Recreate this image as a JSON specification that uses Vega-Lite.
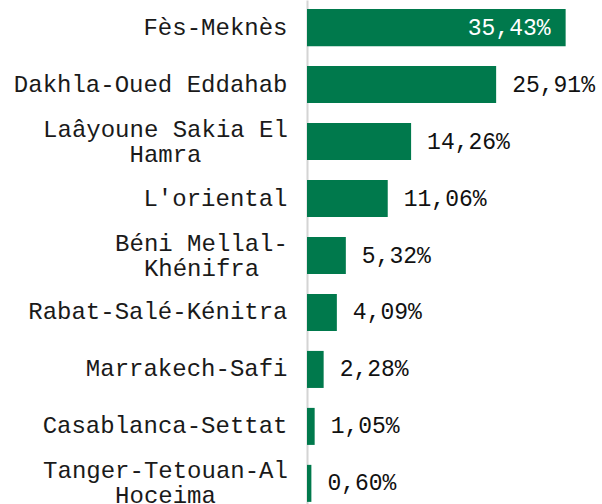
{
  "$schema": "https://vega.github.io/schema/vega-lite/v6.json",
  "width": 292,
  "height": 511,
  "padding": {"left": 13, "top": 0, "right": 0, "bottom": 0},
  "background": "white",
  "config": {"view": {"stroke": null}},
  "data": {"values": [
    {"region": "Fès-Meknès", "share": 35.43},
    {"region": "Dakhla-Oued Eddahab", "share": 25.91},
    {"region": "Laâyoune Sakia El Hamra", "share": 14.26},
    {"region": "L'oriental", "share": 11.06},
    {"region": "Béni Mellal-Khénifra", "share": 5.32},
    {"region": "Rabat-Salé-Kénitra", "share": 4.09},
    {"region": "Marrakech-Safi", "share": 2.28},
    {"region": "Casablanca-Settat", "share": 1.05},
    {"region": "Tanger-Tetouan-Al Hoceima", "share": 0.60}
  ]},
  "transform": [
    {"calculate": "replace(format(datum.share, '.2f'), '.', ',') + '%'", "as": "label"}
  ],
  "encoding": {
    "y": {
      "field": "region", "type": "nominal",
      "sort": ["Fès-Meknès", "Dakhla-Oued Eddahab", "Laâyoune Sakia El Hamra", "L'oriental", "Béni Mellal-Khénifra", "Rabat-Salé-Kénitra", "Marrakech-Safi", "Casablanca-Settat", "Tanger-Tetouan-Al Hoceima"],
      "scale": {"paddingInner": 0.35, "paddingOuter": 0.16},
      "axis": {
        "title": null, "ticks": false,
        "domainColor": "#d4d4d4", "domainWidth": 2,
        "labelFont": "Liberation Mono", "labelFontSize": 24, "labelColor": "#1a1a1a",
        "labelLimit": 400, "labelLineHeight": 25,
        "labelAlign": {"condition": {"test": "datum.value == 'Laâyoune Sakia El Hamra' || datum.value == 'Béni Mellal-Khénifra' || datum.value == 'Tanger-Tetouan-Al Hoceima'", "value": "center"}, "value": "right"},
        "labelPadding": {"condition": [
          {"test": "datum.value == 'Béni Mellal-Khénifra'", "value": 106},
          {"test": "datum.value == 'Laâyoune Sakia El Hamra' || datum.value == 'Tanger-Tetouan-Al Hoceima'", "value": 142}
        ], "value": 20},
        "labelOffset": {"condition": {"test": "datum.value == 'Laâyoune Sakia El Hamra' || datum.value == 'Béni Mellal-Khénifra' || datum.value == 'Tanger-Tetouan-Al Hoceima'", "value": -12}, "value": 0},
        "labelExpr": "datum.value == 'Laâyoune Sakia El Hamra' ? ['Laâyoune Sakia El', 'Hamra'] : datum.value == 'Béni Mellal-Khénifra' ? ['Béni Mellal-', 'Khénifra'] : datum.value == 'Tanger-Tetouan-Al Hoceima' ? ['Tanger-Tetouan-Al', 'Hoceima'] : datum.value"
      }
    },
    "x": {
      "field": "share", "type": "quantitative",
      "scale": {"domain": [0, 40], "nice": false},
      "axis": null
    }
  },
  "layer": [
    {"mark": {"type": "bar", "color": "#00794C"}},
    {
      "transform": [{"filter": "datum.share > 30"}],
      "mark": {"type": "text", "align": "right", "baseline": "middle", "dx": -15, "font": "Liberation Mono", "fontSize": 23, "color": "#ffffff"},
      "encoding": {"text": {"field": "label"}}
    },
    {
      "transform": [{"filter": "datum.share <= 30"}],
      "mark": {"type": "text", "align": "left", "baseline": "middle", "dx": 16, "font": "Liberation Mono", "fontSize": 23, "color": "#111111"},
      "encoding": {"text": {"field": "label"}}
    }
  ]
}
